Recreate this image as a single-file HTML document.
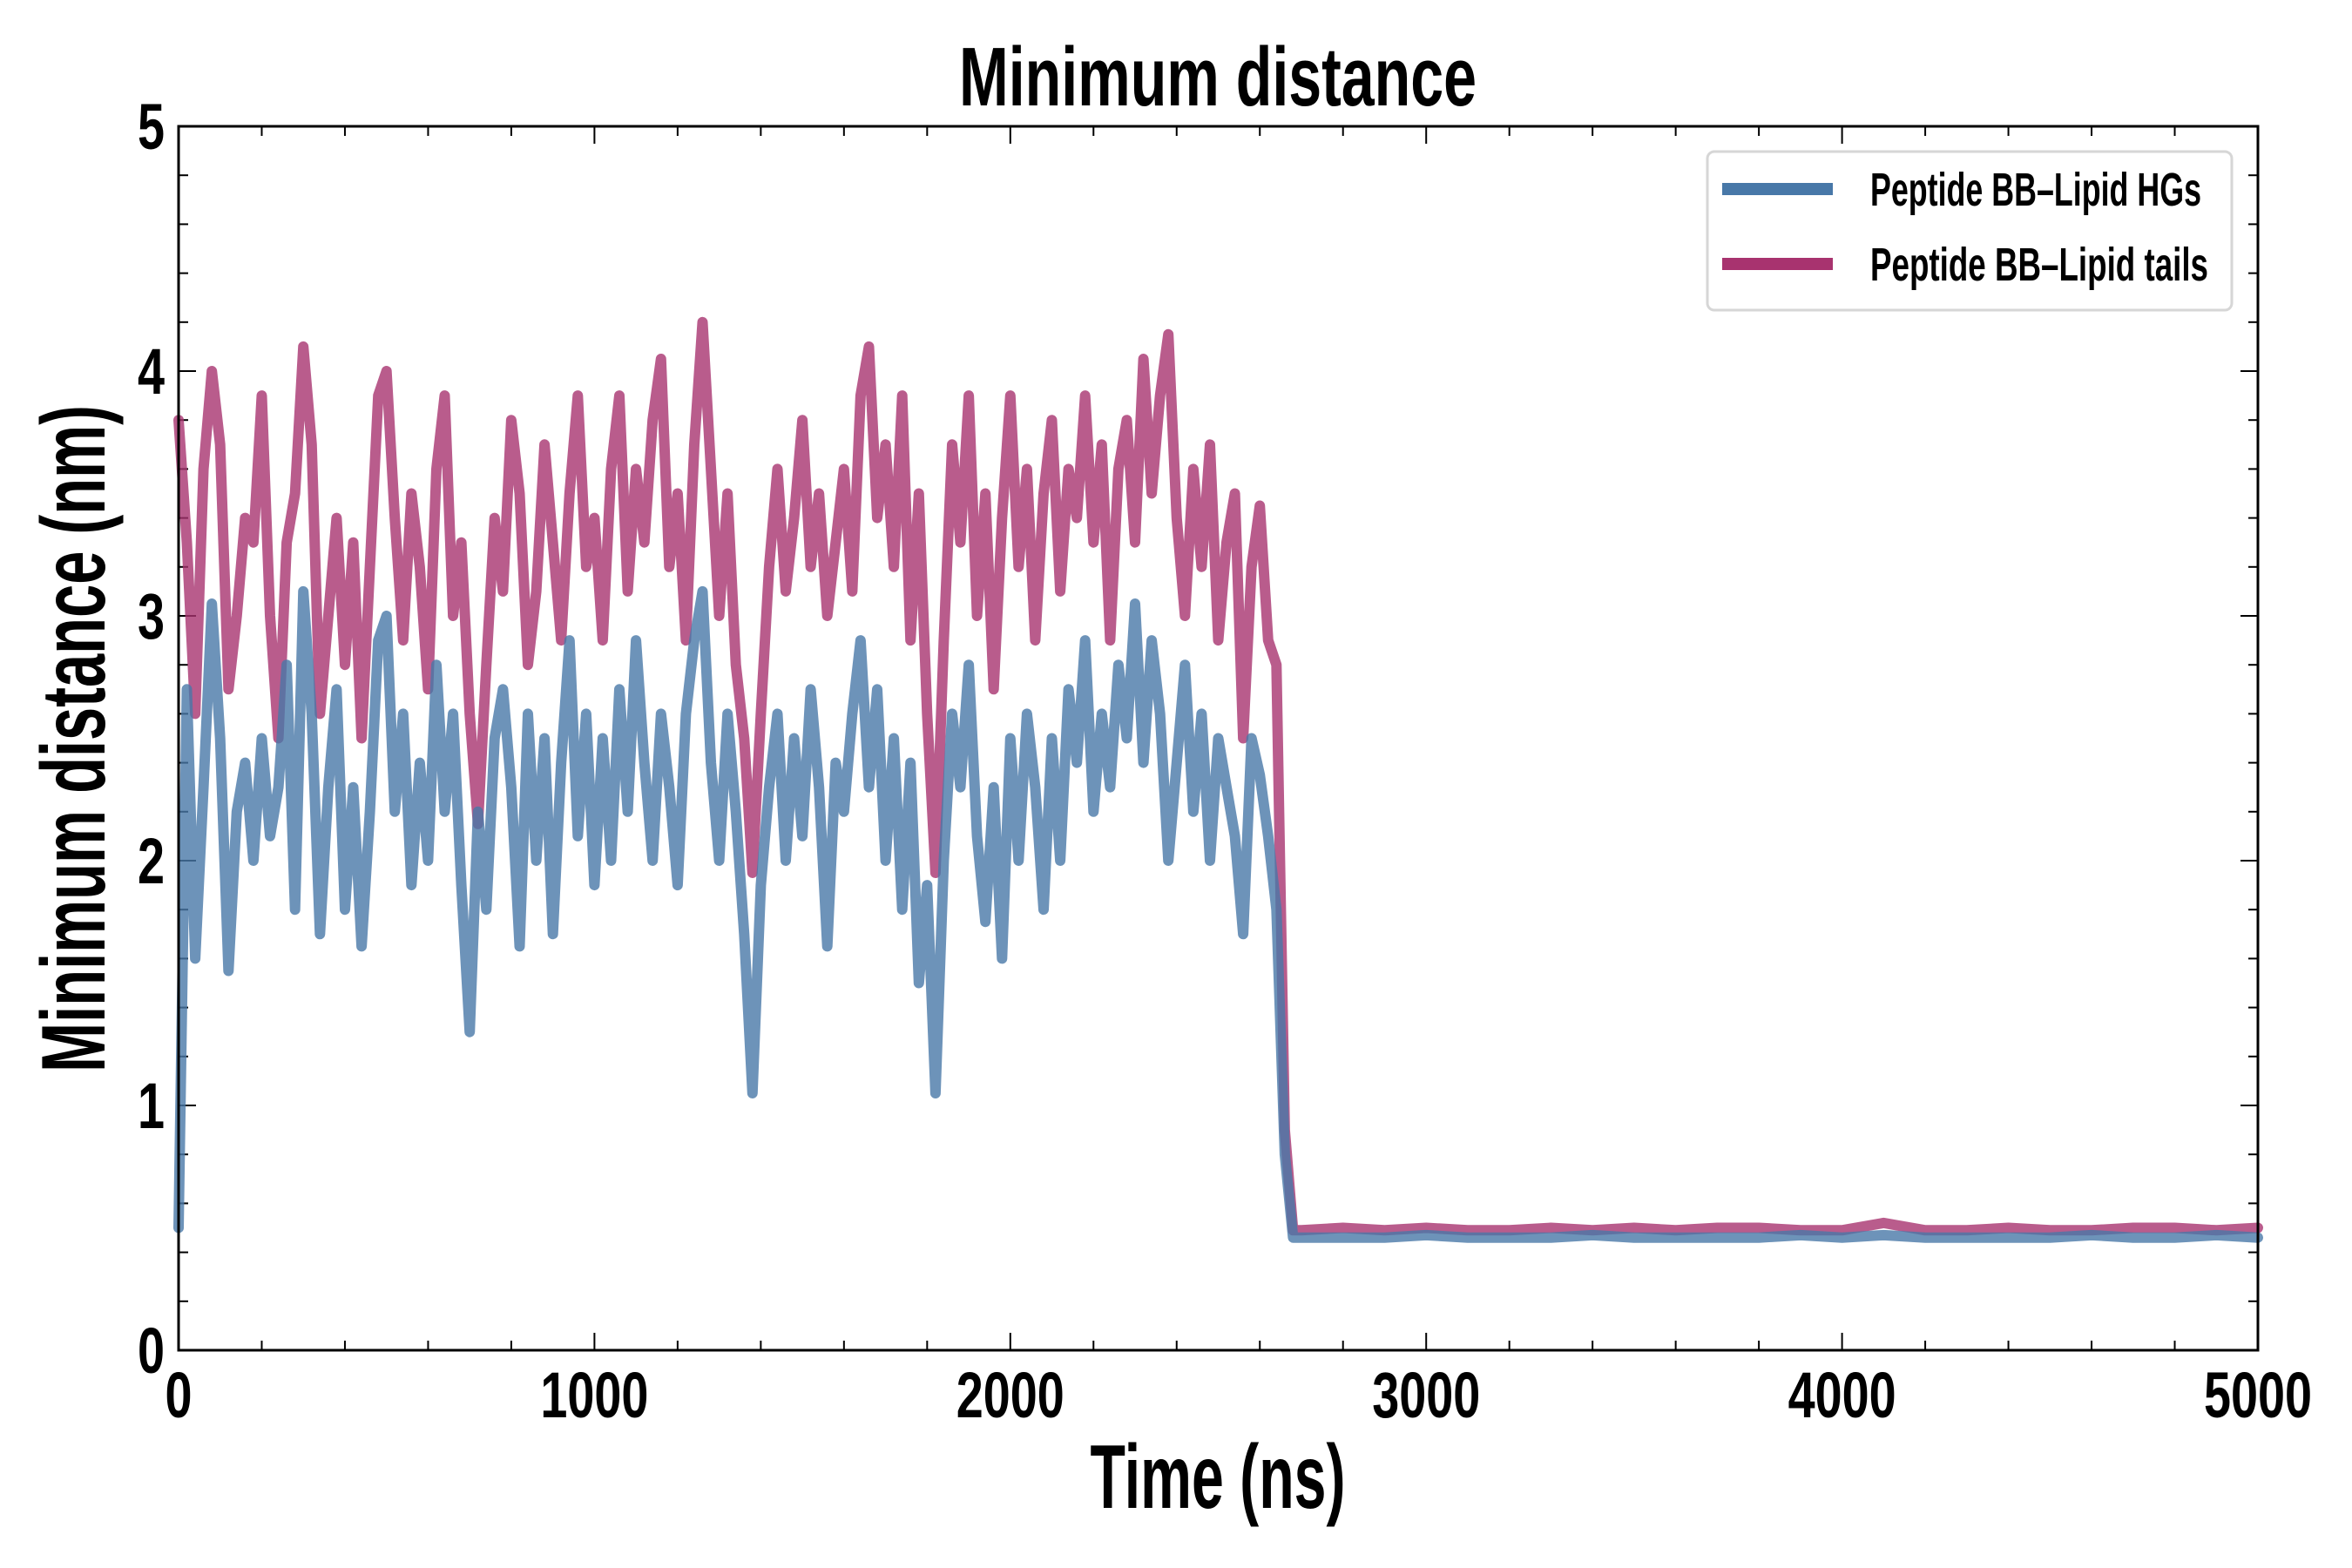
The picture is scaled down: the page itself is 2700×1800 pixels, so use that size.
<!DOCTYPE html>
<html><head><meta charset="utf-8"><style>
html,body{margin:0;padding:0;background:#fff;}
svg{display:block;}
text{font-family:"Liberation Sans Narrow","Liberation Sans",sans-serif;font-weight:bold;fill:#000;}
</style></head><body>
<svg id="chart" width="2700" height="1800" viewBox="0 0 2700 1800" xmlns="http://www.w3.org/2000/svg">
<text x="1398" y="121" font-size="96" text-anchor="middle" textLength="594" lengthAdjust="spacingAndGlyphs">Minimum distance</text>
<text x="1398" y="1731" font-size="104" text-anchor="middle" textLength="293" lengthAdjust="spacingAndGlyphs">Time (ns)</text>
<text transform="translate(120,848) rotate(-90)" font-size="104" text-anchor="middle" textLength="766" lengthAdjust="spacingAndGlyphs">Minimum distance (nm)</text>
<g id="ticks"></g>
<g id="series"></g>
<rect x="205" y="145" width="2387" height="1405" fill="none" stroke="#000" stroke-width="3"/>
<g>
<rect x="1960" y="174" width="602" height="182" rx="8" fill="#fff" fill-opacity="0.9" stroke="#d6d6d6" stroke-width="3"/>
<line x1="1977" y1="217" x2="2104" y2="217" stroke="#4878a8" stroke-width="14"/>
<text x="2147" y="236" font-size="54" textLength="380" lengthAdjust="spacingAndGlyphs">Peptide BB–Lipid HGs</text>
<line x1="1977" y1="303" x2="2104" y2="303" stroke="#a8336f" stroke-width="14"/>
<text x="2147" y="322" font-size="54" textLength="388" lengthAdjust="spacingAndGlyphs">Peptide BB–Lipid tails</text>
</g>
</svg>
<script>
const xTickValues=[0,1000,2000,3000,4000,5000];
const xTickLabels=["0","1000","2000","3000","4000","5000"];
const yTickValues=[0,1,2,3,4,5];
const yTickLabels=["0","1","2","3","4","5"];
const noisyStep=20;
const tailsNoisy=[3.8,3.3,2.6,3.6,4.0,3.7,2.7,3.0,3.4,3.3,3.9,3.0,2.5,3.3,3.5,4.1,3.7,2.6,3.0,3.4,2.8,3.3,2.5,3.2,3.9,4.0,3.4,2.9,3.5,3.2,2.7,3.6,3.9,3.0,3.3,2.6,2.15,2.8,3.4,3.1,3.8,3.5,2.8,3.1,3.7,3.3,2.9,3.5,3.9,3.2,3.4,2.9,3.6,3.9,3.1,3.6,3.3,3.8,4.05,3.2,3.5,2.9,3.7,4.2,3.6,3.0,3.5,2.8,2.5,1.95,2.6,3.2,3.6,3.1,3.4,3.8,3.2,3.5,3.0,3.3,3.6,3.1,3.9,4.1,3.4,3.7,3.2,3.9,2.9,3.5,2.6,1.95,2.9,3.7,3.3,3.9,3.0,3.5,2.7,3.4,3.9,3.2,3.6,2.9,3.5,3.8,3.1,3.6,3.4,3.9,3.3,3.7,2.9,3.6,3.8,3.3,4.05,3.5,3.9,4.15,3.4,3.0,3.6,3.2,3.7,2.9,3.3,3.5,2.5,3.2,3.45,2.9,2.8,0.9,0.49];
const hgsNoisy=[0.5,2.7,1.6,2.3,3.05,2.5,1.55,2.2,2.4,2.0,2.5,2.1,2.3,2.8,1.8,3.1,2.6,1.7,2.3,2.7,1.8,2.3,1.65,2.2,2.9,3.0,2.2,2.6,1.9,2.4,2.0,2.8,2.2,2.6,1.9,1.3,2.2,1.8,2.5,2.7,2.3,1.65,2.6,2.0,2.5,1.7,2.4,2.9,2.1,2.6,1.9,2.5,2.0,2.7,2.2,2.9,2.4,2.0,2.6,2.3,1.9,2.6,2.9,3.1,2.4,2.0,2.6,2.2,1.7,1.05,1.9,2.3,2.6,2.0,2.5,2.1,2.7,2.3,1.65,2.4,2.2,2.6,2.9,2.3,2.7,2.0,2.5,1.8,2.4,1.5,1.9,1.05,2.0,2.6,2.3,2.8,2.1,1.75,2.3,1.6,2.5,2.0,2.6,2.3,1.8,2.5,2.0,2.7,2.4,2.9,2.2,2.6,2.3,2.8,2.5,3.05,2.4,2.9,2.6,2.0,2.4,2.8,2.2,2.6,2.0,2.5,2.3,2.1,1.7,2.5,2.35,2.1,1.8,0.8,0.46];
const flatTimes=[2700,2800,2900,3000,3100,3200,3300,3400,3500,3600,3700,3800,3900,4000,4100,4200,4300,4400,4500,4600,4700,4800,4900,5000];
const tailsFlat=[0.49,0.50,0.49,0.50,0.49,0.49,0.50,0.49,0.50,0.49,0.50,0.50,0.49,0.49,0.52,0.49,0.49,0.50,0.49,0.49,0.50,0.50,0.49,0.50];
const hgsFlat=[0.46,0.46,0.46,0.47,0.46,0.46,0.46,0.47,0.46,0.46,0.46,0.46,0.47,0.46,0.47,0.46,0.46,0.46,0.46,0.47,0.46,0.46,0.47,0.46];

const L=205,R=2592,T=145,B=1550;
const xs=t=>L+(t/5000)*(R-L);
const ys=v=>B-(v/5)*(B-T);
const NS="http://www.w3.org/2000/svg";
const ticks=document.getElementById('ticks');
function mk(tag,attrs,parent){const e=document.createElementNS(NS,tag);for(const k in attrs)e.setAttribute(k,attrs[k]);parent.appendChild(e);return e;}
for(let t=0;t<=5000;t+=200){
  const major=t%1000===0;const len=major?20:11;
  const a=mk('line',{x1:xs(t),x2:xs(t),y1:B,y2:B-len,stroke:'#000','stroke-width':2},ticks);
  
  
  const b=mk('line',{x1:xs(t),x2:xs(t),y1:T,y2:T+len,stroke:'#000','stroke-width':2},ticks);
  
  
}
for(let i=0;i<=25;i++){
  const v=i*0.2;const major=i%5===0;const len=major?20:11;
  const a=mk('line',{x1:L,x2:L+len,y1:ys(v),y2:ys(v),stroke:'#000','stroke-width':2},ticks);
  
  
  const b=mk('line',{x1:R,x2:R-len,y1:ys(v),y2:ys(v),stroke:'#000','stroke-width':2},ticks);
  
  
}
xTickValues.forEach((v,i)=>{
  const s=xTickLabels[i];
  const e=mk('text',{x:xs(v),y:1627,'font-size':74,'text-anchor':'middle',textLength:s.length*31,lengthAdjust:'spacingAndGlyphs'},ticks);
  e.textContent=s;
  
  
});
yTickValues.forEach((v,i)=>{
  const e=mk('text',{x:189,y:ys(v)+26,'font-size':74,'text-anchor':'end',textLength:31,lengthAdjust:'spacingAndGlyphs'},ticks);
  e.textContent=yTickLabels[i];
  
  
});
const series=document.getElementById('series');
function draw(noisy,flat,color,name){
  const pts=[];
  noisy.forEach((v,i)=>pts.push(xs(i*noisyStep).toFixed(1)+','+ys(v).toFixed(1)));
  flat.forEach((v,i)=>pts.push(xs(flatTimes[i]).toFixed(1)+','+ys(v).toFixed(1)));
  const p=mk('polyline',{points:pts.join(' '),fill:'none',stroke:color,'stroke-width':12,'stroke-opacity':0.8,'stroke-linejoin':'round','stroke-linecap':'round'},series);
  
  
}
draw(tailsNoisy,tailsFlat,'#a8336f','line-lipid-tails');
draw(hgsNoisy,hgsFlat,'#4878a8','line-lipid-hgs');
</script>
</body></html>
